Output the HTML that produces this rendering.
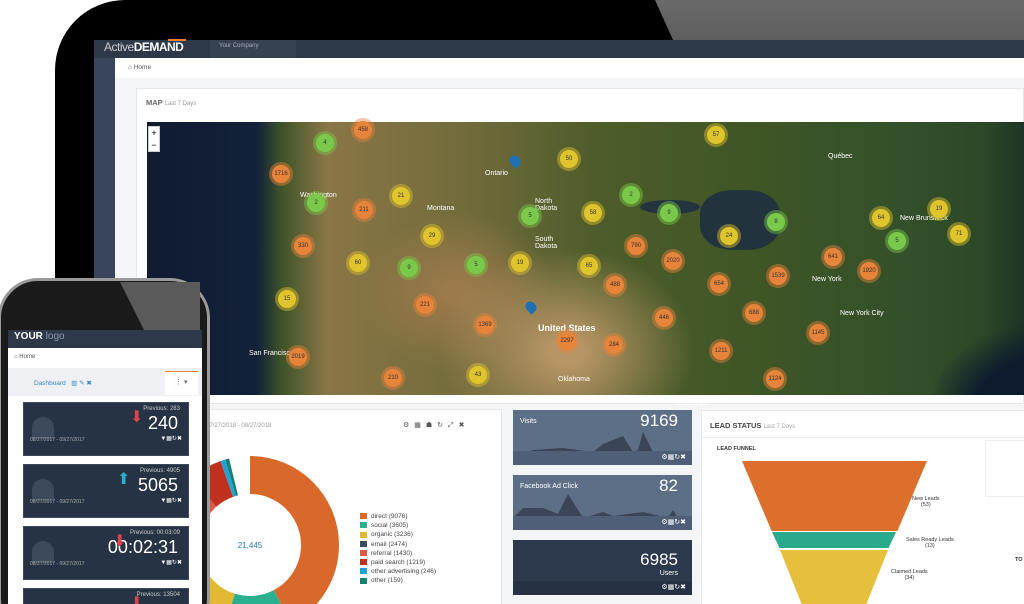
<!DOCTYPE html>
<html><head><meta charset="utf-8"><style>
*{margin:0;padding:0;box-sizing:border-box}
html,body{width:1024px;height:604px;overflow:hidden}
body{background:#fff;position:relative;font-family:"Liberation Sans",sans-serif}
.a{position:absolute}
.c{position:absolute;width:18px;height:18px;border-radius:50%;font-size:6px;color:#333;text-align:center;line-height:18px}
.o{background:#e8833a;box-shadow:0 0 0 3px rgba(232,131,58,.45)}
.y{background:#e0c42c;box-shadow:0 0 0 3px rgba(224,196,44,.45)}
.g{background:#7bc94a;box-shadow:0 0 0 3px rgba(123,201,74,.45)}
.lbl{position:absolute;color:#fff;font-size:7px}
.tile{position:absolute;background:#5d6e87;color:#fff}
.ph{position:absolute;left:23px;width:166px;height:54px;background:#263345;border:1px solid #3d4a5c;color:#fff}
.ph .p{position:absolute;right:8px;top:3px;font-size:6px;color:#ccc}
.ph .v{position:absolute;right:10px;top:10px;font-size:18px}
.ph .d{position:absolute;left:6px;top:34px;font-size:5px;color:#aaa}
.ph .k{position:absolute;left:8px;top:14px;width:22px;height:22px;border-radius:11px 11px 0 0;background:#3c4a5c}
.leg div{height:9.2px;font-size:6.5px;color:#444;line-height:9px}
.leg span{display:inline-block;width:7px;height:6px;margin-right:4px;vertical-align:middle}
</style></head><body>
<div class="a" style="left:0;top:0;width:1024px;height:604px;overflow:hidden">
<div class="a" style="left:55px;top:0;width:1000px;height:640px;background:#000;border-radius:70px 0 0 0"></div>
<div class="a" style="left:655px;top:0;width:369px;height:40px;background:linear-gradient(#6a6a6a,#5e5e5e);clip-path:polygon(0 0,100% 0,100% 100%,18px 100%)"></div>
<div class="a" style="left:94px;top:40px;width:930px;height:18px;background:#2d3949"></div>
<div class="a" style="left:210px;top:40px;width:86px;height:18px;background:#36424f"></div>
<div class="a" style="left:104px;top:40px;font-size:12px;color:#ccc;letter-spacing:-.5px">Active<b style="color:#fff">DEMAND</b></div>
<div class="a" style="left:168px;top:39px;width:18px;height:2px;background:#e8833a"></div>
<div class="a" style="left:219px;top:43px;font-size:6px;color:#aab">Your Company</div>
<div class="a" style="left:94px;top:58px;width:21px;height:546px;background:#39455a"></div>
<div class="a" style="left:115px;top:58px;width:909px;height:546px;background:#f4f5f7"></div>
<div class="a" style="left:115px;top:58px;width:909px;height:20px;background:#fff"></div>
<div class="a" style="left:128px;top:64px;font-size:6.5px;color:#555">⌂ Home</div>
<div class="a" style="left:136px;top:88px;width:888px;height:316px;background:#fff;border:1px solid #e6e6e6"></div>
<div class="a" style="left:146px;top:98px;font-size:7.5px;color:#666;font-weight:bold">MAP <span style="font-weight:normal;font-size:6px;color:#999">Last 7 Days</span></div>
<div class="a" style="left:147px;top:122px;width:877px;height:273px;background:
radial-gradient(ellipse 120px 90px at 900px 290px,#0e1a2e 60%,transparent 100%),
radial-gradient(ellipse 160px 130px at 420px 230px,#b89565 10%,transparent 80%),
radial-gradient(ellipse 120px 100px at 310px 170px,#9c7a4b 10%,transparent 80%),
linear-gradient(90deg,#0f1b30 0,#13213a 110px,#3f5428 135px,#8a7646 180px,#6f6a3a 330px,#4d5c2a 450px,#3e5526 620px,#33502a 760px,#2b4726 840px,#1e3426 877px)"></div>
<div class="a" style="left:700px;top:190px;width:80px;height:60px;border-radius:40%;background:#1b2b45;opacity:.8"></div>
<div class="a" style="left:640px;top:200px;width:60px;height:14px;border-radius:50%;background:#1b2b45;opacity:.8"></div>
<div class="a" style="left:148px;top:126px;width:12px;height:26px;background:#fff;border:1px solid #ccc;font-size:9px;text-align:center;line-height:12px">+<br>−</div>
<div class="lbl" style="left:538px;top:323px;font-size:9px;font-weight:bold">United States</div>
<div class="lbl" style="left:485px;top:170px">Ontario</div><div class="lbl" style="left:828px;top:153px">Québec</div>
<div class="lbl" style="left:535px;top:198px">North<br>Dakota</div><div class="lbl" style="left:535px;top:236px">South<br>Dakota</div>
<div class="lbl" style="left:427px;top:205px">Montana</div><div class="lbl" style="left:300px;top:192px">Washington</div>
<div class="lbl" style="left:249px;top:350px">San Francisco</div><div class="lbl" style="left:840px;top:310px">New York City</div>
<div class="lbl" style="left:812px;top:276px">New York</div><div class="lbl" style="left:900px;top:215px">New Brunswick</div>
<div class="lbl" style="left:675px;top:400px">Tennessee</div><div class="lbl" style="left:558px;top:376px">Oklahoma</div>
<div class="c o" style="left:354px;top:121px">458</div><div class="c g" style="left:316px;top:134px">4</div><div class="c y" style="left:707px;top:126px">57</div>
<div class="c y" style="left:560px;top:150px">50</div><div class="c o" style="left:272px;top:165px">1716</div><div class="c g" style="left:307px;top:194px">2</div>
<div class="c y" style="left:392px;top:187px">21</div><div class="c o" style="left:355px;top:201px">211</div><div class="c g" style="left:622px;top:186px">2</div>
<div class="c g" style="left:521px;top:207px">5</div><div class="c y" style="left:584px;top:204px">58</div><div class="c g" style="left:660px;top:204px">9</div>
<div class="c g" style="left:767px;top:213px">8</div><div class="c y" style="left:930px;top:200px">19</div><div class="c y" style="left:872px;top:209px">64</div>
<div class="c y" style="left:950px;top:225px">71</div><div class="c y" style="left:720px;top:227px">24</div><div class="c y" style="left:423px;top:227px">29</div>
<div class="c o" style="left:294px;top:237px">330</div><div class="c o" style="left:627px;top:237px">790</div><div class="c g" style="left:888px;top:232px">5</div>
<div class="c o" style="left:824px;top:248px">641</div><div class="c o" style="left:664px;top:252px">2020</div><div class="c y" style="left:349px;top:254px">60</div>
<div class="c g" style="left:400px;top:259px">9</div><div class="c g" style="left:467px;top:256px">5</div><div class="c y" style="left:511px;top:254px">19</div>
<div class="c y" style="left:580px;top:257px">65</div><div class="c o" style="left:769px;top:267px">1539</div><div class="c o" style="left:710px;top:275px">654</div>
<div class="c o" style="left:606px;top:276px">488</div><div class="c y" style="left:278px;top:290px">15</div><div class="c o" style="left:416px;top:296px">221</div>
<div class="c o" style="left:476px;top:316px">1369</div><div class="c o" style="left:860px;top:262px">1920</div><div class="c o" style="left:655px;top:309px">446</div>
<div class="c o" style="left:745px;top:304px">688</div><div class="c o" style="left:809px;top:324px">1145</div><div class="c o" style="left:558px;top:332px">2297</div>
<div class="c o" style="left:605px;top:336px">284</div><div class="c o" style="left:289px;top:348px">2019</div><div class="c o" style="left:766px;top:370px">1124</div>
<div class="c o" style="left:384px;top:369px">210</div><div class="c y" style="left:469px;top:366px">43</div><div class="c o" style="left:712px;top:342px">1211</div>
<div class="a" style="left:510px;top:155px;width:10px;height:12px;border-radius:50% 50% 50% 0;transform:rotate(-45deg);background:#1f6fb5"></div>
<div class="a" style="left:526px;top:301px;width:10px;height:12px;border-radius:50% 50% 50% 0;transform:rotate(-45deg);background:#1f6fb5"></div>
<div class="a" style="left:200px;top:409px;width:302px;height:200px;background:#fff;border:1px solid #e8e8e8"></div>
<div class="a" style="left:206px;top:423px;font-size:6px;color:#999">07/27/2018 - 08/27/2018</div>
<div class="a" style="left:403px;top:421px;font-size:7px;color:#555;letter-spacing:5px">⚙▦☗↻⤢✖</div>
<svg class="a" style="left:150px;top:445px" width="200" height="200" viewBox="-100 -100 200 200">
<g fill="none" stroke-width="38">
<circle r="70" stroke="#d9692a" stroke-dasharray="186 500" transform="rotate(-90)"/>
<circle r="70" stroke="#2bb08f" stroke-dasharray="55 500" stroke-dashoffset="-186" transform="rotate(-90)"/>
<circle r="70" stroke="#e2b933" stroke-dasharray="74 500" stroke-dashoffset="-241" transform="rotate(-90)"/>
<circle r="70" stroke="#3b4b60" stroke-dasharray="37 500" stroke-dashoffset="-315" transform="rotate(-90)"/>
<circle r="70" stroke="#e0584a" stroke-dasharray="37 500" stroke-dashoffset="-352" transform="rotate(-90)"/>
<circle r="70" stroke="#c0301f" stroke-dasharray="27 500" stroke-dashoffset="-389" transform="rotate(-90)"/>
<circle r="70" stroke="#21a3d8" stroke-dasharray="4 500" stroke-dashoffset="-416" transform="rotate(-90)"/>
<circle r="70" stroke="#178070" stroke-dasharray="3 500" stroke-dashoffset="-420" transform="rotate(-90)"/>
</g><text x="0" y="3" text-anchor="middle" font-size="8" fill="#2a7ab0" font-family="Liberation Sans">21,445</text></svg>
<div class="a leg" style="left:360px;top:512px">
<div><span style="background:#d9692a"></span>direct (9076)</div><div><span style="background:#2bb08f"></span>social (3605)</div>
<div><span style="background:#e2b933"></span>organic (3236)</div><div><span style="background:#3b4b60"></span>email (2474)</div>
<div><span style="background:#e0584a"></span>referral (1430)</div><div><span style="background:#c0301f"></span>paid search (1219)</div>
<div><span style="background:#21a3d8"></span>other advertising (246)</div><div><span style="background:#178070"></span>other (159)</div></div>
<div class="tile" style="left:513px;top:410px;width:179px;height:55px"><div class="a" style="left:7px;top:8px;font-size:7px">Visits</div><div class="a" style="right:14px;top:1px;font-size:17px">9169</div>
<svg class="a" style="left:0;top:20px" width="179" height="30"><path d="M0 26L20 20 50 18 80 22 90 14 110 6 120 22 125 20 130 2 140 22 179 26V30H0Z" fill="#3a4558"/></svg>
<div class="a" style="left:0;top:41px;width:179px;height:14px;background:#4f5f77"></div><div class="a" style="right:6px;top:43px;font-size:7px">⚙▦↻✖</div></div>
<div class="tile" style="left:513px;top:475px;width:179px;height:55px"><div class="a" style="left:7px;top:8px;font-size:7px">Facebook Ad Click</div><div class="a" style="right:14px;top:1px;font-size:17px">82</div>
<svg class="a" style="left:0;top:15px" width="179" height="30"><path d="M0 28L10 18 30 18 45 24 55 4 70 28 90 22 100 26 130 22 155 28 160 20 165 28 179 28V30H0Z" fill="#3a4558"/></svg>
<div class="a" style="left:0;top:41px;width:179px;height:14px;background:#4f5f77"></div><div class="a" style="right:6px;top:43px;font-size:7px">⚙▦↻✖</div></div>
<div class="tile" style="left:513px;top:540px;width:179px;height:55px;background:#2c394c"><div class="a" style="right:14px;top:10px;font-size:17px">6985</div><div class="a" style="right:14px;top:30px;font-size:7px">Users</div>
<div class="a" style="left:0;top:41px;width:179px;height:14px;background:#263243"></div><div class="a" style="right:6px;top:43px;font-size:7px">⚙▦↻✖</div></div>
<div class="a" style="left:701px;top:410px;width:330px;height:200px;background:#fff;border:1px solid #e8e8e8"></div>
<div class="a" style="left:710px;top:421px;font-size:7.5px;font-weight:bold;color:#444">LEAD STATUS <span style="font-weight:normal;font-size:6px;color:#aaa">Last 7 Days</span></div>
<div class="a" style="left:701px;top:437px;width:330px;height:1px;background:#eee"></div>
<div class="a" style="left:717px;top:446px;font-size:5.5px;font-weight:bold;color:#333">LEAD FUNNEL</div>
<div class="a" style="left:742px;top:461px;width:185px;height:70px;background:#dd6f2c;clip-path:polygon(0 0,100% 0,84% 100%,16% 100%)"></div>
<div class="a" style="left:772px;top:532px;width:124px;height:16px;background:#2aa98c;clip-path:polygon(0 0,100% 0,94% 100%,6% 100%)"></div>
<div class="a" style="left:780px;top:550px;width:108px;height:54px;background:#e6bf3d;clip-path:polygon(0 0,100% 0,80% 100%,20% 100%)"></div>
<div class="a" style="left:912px;top:496px;font-size:5.5px;color:#333;text-align:center">New Leads<br>(53)</div>
<div class="a" style="left:906px;top:537px;font-size:5.5px;color:#333;text-align:center">Sales Ready Leads<br>(13)</div>
<div class="a" style="left:891px;top:569px;font-size:5.5px;color:#333;text-align:center">Claimed Leads<br>(34)</div>
<div class="a" style="left:985px;top:440px;width:45px;height:57px;border:1px solid #eee"></div>
<div class="a" style="left:1015px;top:557px;font-size:5.5px;font-weight:bold;color:#333">TO</div>
<div class="a" style="left:-2px;top:278px;width:212px;height:360px;background:#1a1a1a;border:3px solid #9a9a9a;border-radius:40px"></div>
<div class="a" style="left:120px;top:282px;width:80px;height:48px;background:#5a5a5a;clip-path:polygon(0 0,100% 0,100% 100%,30% 100%)"></div>
<div class="a" style="left:8px;top:330px;width:194px;height:274px;background:#fff"></div>
<div class="a" style="left:8px;top:330px;width:194px;height:18px;background:#2d3949"></div>
<div class="a" style="left:14px;top:331px;font-size:10px;font-weight:bold;color:#fff">YOUR<span style="color:#8a9ab0;font-weight:normal"> logo</span></div>
<div class="a" style="left:14px;top:354px;font-size:6px;color:#555">⌂ Home</div>
<div class="a" style="left:8px;top:368px;width:194px;height:28px;background:#eef0f3"></div>
<div class="a" style="left:165px;top:371px;width:33px;height:24px;background:#fff;border-top:1px solid #e8833a"></div>
<div class="a" style="left:34px;top:379px;font-size:6.5px;color:#3a8ac4">Dashboard &nbsp; ▥ ✎ ✖</div>
<div class="a" style="left:175px;top:378px;font-size:7px;color:#666">⋮ ▾</div>
<div class="ph" style="top:402px"><div class="k"></div><div class="p">Previous: 283</div><div class="v">240</div><div class="d">08/27/2017 - 09/27/2017</div><div class="a" style="left:106px;top:4px;color:#e0424a;font-size:16px">⬇</div><div class="a" style="right:6px;top:32px;font-size:6px">▼▦↻✖</div></div>
<div class="ph" style="top:464px"><div class="k"></div><div class="p">Previous: 4905</div><div class="v">5065</div><div class="d">08/27/2017 - 09/27/2017</div><div class="a" style="left:93px;top:4px;color:#2bb0c8;font-size:16px">⬆</div><div class="a" style="right:6px;top:32px;font-size:6px">▼▦↻✖</div></div>
<div class="ph" style="top:526px"><div class="k"></div><div class="p">Previous: 00:03:09</div><div class="v">00:02:31</div><div class="d">08/27/2017 - 09/27/2017</div><div class="a" style="left:89px;top:4px;color:#e0424a;font-size:16px">⬇</div><div class="a" style="right:6px;top:32px;font-size:6px">▼▦↻✖</div></div>
<div class="ph" style="top:588px"><div class="p">Previous: 13504</div><div class="a" style="left:106px;top:4px;color:#e0424a;font-size:16px">⬇</div></div>
</div>
</body></html>
